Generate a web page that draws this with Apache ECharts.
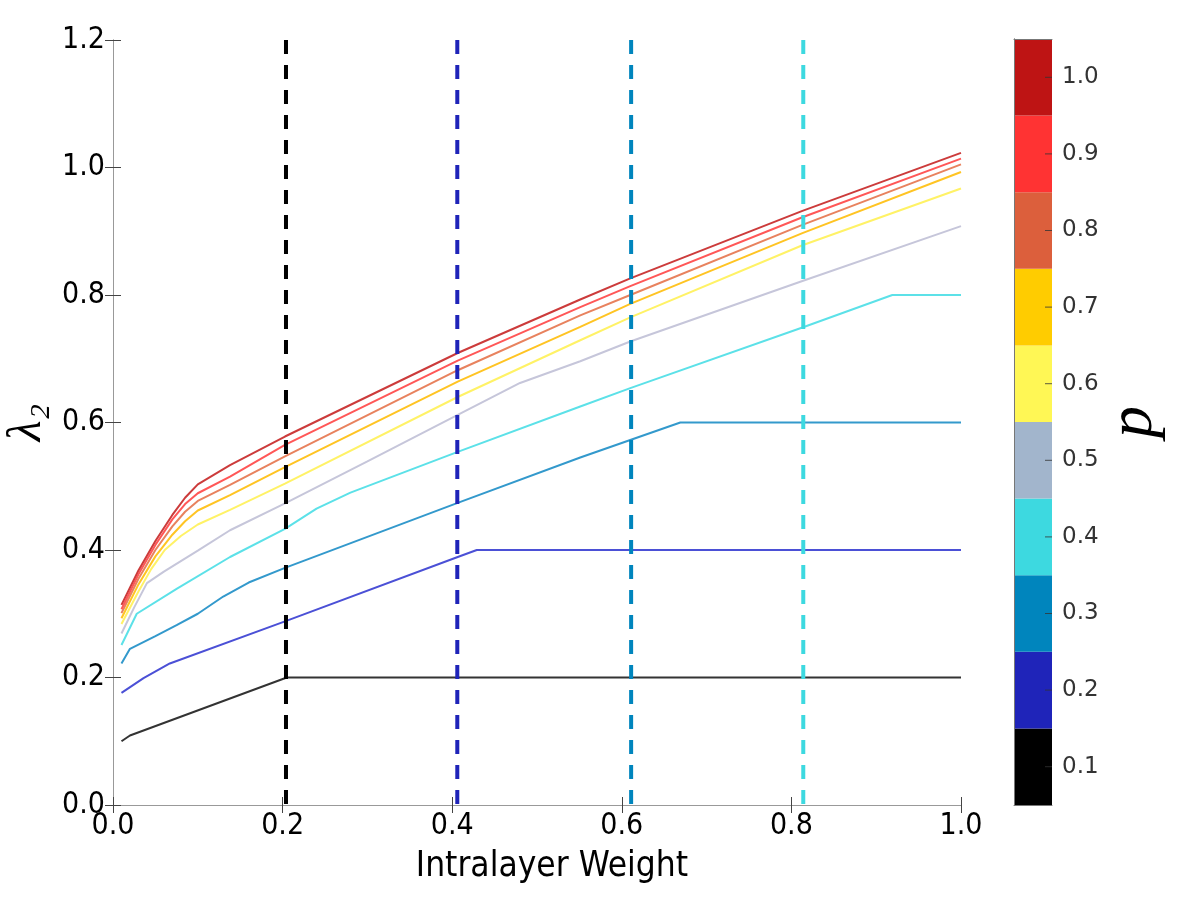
<!DOCTYPE html>
<html>
<head>
<meta charset="utf-8">
<script src="https://cdn.jsdelivr.net/npm/echarts@6/dist/echarts.min.js"></script>
<style>
  html, body { margin: 0; padding: 0; background: #fff; }
  #chart { width: 1200px; height: 900px; }
</style>
</head>
<body>
<div id="chart"></div>
<script>
// lambda_2 vs intralayer weight, one curve per p
const p01 = [[0.01, 0.100], [0.02, 0.109], [0.205, 0.200], [1.0, 0.200]];
const p02 = [[0.01, 0.176], [0.036, 0.199], [0.067, 0.222], [0.2028, 0.288], [0.4065, 0.389], [0.429, 0.400], [1.0, 0.400]];
const p03 = [[0.01, 0.222], [0.02, 0.245], [0.05, 0.265], [0.075, 0.282], [0.1, 0.300], [0.13, 0.327], [0.16, 0.349],
  [0.2028, 0.372], [0.4065, 0.474], [0.551, 0.545], [0.669, 0.600], [1.0, 0.600]];
const p04 = [[0.01, 0.251], [0.028, 0.300], [0.075, 0.339], [0.138, 0.389], [0.2028, 0.433], [0.24, 0.465], [0.28, 0.490],
  [0.4065, 0.554], [0.551, 0.625], [0.61, 0.654], [0.813, 0.749], [0.919, 0.800], [1.0, 0.800]];
const p05 = [[0.01, 0.269], [0.025, 0.310], [0.04, 0.348], [0.06, 0.366], [0.1, 0.399], [0.138, 0.431], [0.2028, 0.473],
  [0.3, 0.539], [0.4065, 0.612], [0.48, 0.662], [0.551, 0.696], [0.61, 0.727], [0.813, 0.822], [1.0, 0.908]];
const p06 = [[0.01, 0.284], [0.03, 0.335], [0.045, 0.370], [0.061, 0.400], [0.08, 0.422], [0.1, 0.440], [0.138, 0.463],
  [0.2028, 0.504], [0.4065, 0.640], [0.551, 0.729], [0.61, 0.765], [0.813, 0.878], [1.0, 0.967]];
const p07 = [[0.01, 0.293], [0.03, 0.346], [0.05, 0.390], [0.07, 0.424], [0.085, 0.445], [0.1, 0.462], [0.138, 0.486],
  [0.2028, 0.530], [0.4065, 0.664], [0.551, 0.750], [0.61, 0.786], [0.813, 0.897], [1.0, 0.993]];
const p08 = [[0.01, 0.301], [0.03, 0.355], [0.05, 0.400], [0.07, 0.437], [0.085, 0.460], [0.1, 0.477], [0.138, 0.502],
  [0.2028, 0.547], [0.4065, 0.682], [0.551, 0.768], [0.61, 0.800], [0.813, 0.910], [1.0, 1.005]];
const p09 = [[0.01, 0.307], [0.03, 0.362], [0.05, 0.408], [0.07, 0.448], [0.085, 0.472], [0.1, 0.489], [0.138, 0.515],
  [0.2028, 0.565], [0.4065, 0.697], [0.551, 0.781], [0.61, 0.814], [0.813, 0.922], [1.0, 1.014]];
const p10 = [[0.01, 0.314], [0.03, 0.368], [0.05, 0.414], [0.07, 0.455], [0.085, 0.482], [0.1, 0.503], [0.138, 0.533],
  [0.2028, 0.578], [0.4065, 0.709], [0.551, 0.793], [0.61, 0.826], [0.813, 0.932], [1.0, 1.023]];

const curves = [p01, p02, p03, p04, p05, p06, p07, p08, p09, p10];
const curveColors = ['#333333', '#4b50d6', '#3399cc', '#5ce1e8', '#c6c6da',
  '#fff266', '#ffc423', '#e8825e', '#ff5757', '#cc3b3b'];

// dashed markers
const dashX = [0.204, 0.406, 0.611, 0.814];
const dashColors = ['#000000', '#1f24b9', '#0085bd', '#3dd9e0'];

// colorbar
const pLabels = ['0.1', '0.2', '0.3', '0.4', '0.5', '0.6', '0.7', '0.8', '0.9', '1.0'];
const cbColors = ['#000000', '#1f24b9', '#0085bd', '#3dd9e0', '#a2b5cc',
  '#fff755', '#ffcc00', '#dc5f3c', '#ff3333', '#be1414'];

const tickFont = "'Liberation Sans Narrow', 'DejaVu Sans Condensed', sans-serif";

const chart = echarts.init(document.getElementById('chart'), null, { renderer: 'canvas' });

const series = [];
curves.forEach((c, i) => {
  series.push({
    type: 'line',
    xAxisIndex: 0,
    yAxisIndex: 0,
    data: c,
    showSymbol: false,
    animation: false,
    z: 3,
    lineStyle: { color: curveColors[i], width: 2 }
  });
});
dashX.forEach((x, i) => {
  series.push({
    type: 'line',
    xAxisIndex: 0,
    yAxisIndex: 0,
    data: [[x, 1.2], [x, 0]],
    showSymbol: false,
    animation: false,
    z: 4,
    lineStyle: { color: dashColors[i], width: 4, type: [14, 11] }
  });
});
// colorbar blocks
series.push({
  type: 'bar',
  xAxisIndex: 2,
  yAxisIndex: 2,
  barWidth: '100%',
  animation: false,
  z: 1,
  data: pLabels.map((p, i) => ({ value: 1, itemStyle: { color: cbColors[i] } }))
});
// colorbar ticks, sitting on the right edge and pointing into the bar
series.push({
  type: 'scatter',
  xAxisIndex: 2,
  yAxisIndex: 2,
  animation: false,
  silent: true,
  z: 5,
  symbol: 'rect',
  symbolSize: [7, 1],
  symbolOffset: [-3.5, 0],
  itemStyle: { color: '#333' },
  data: pLabels.map(p => [1, p])
});

const frameLine = { show: true, lineStyle: { color: '#999', width: 1 } };
const inTick = { show: true, inside: true, length: 8, lineStyle: { color: '#444' } };
const cbEdge = { show: true, lineStyle: { color: '#777' } };

chart.setOption({
  backgroundColor: '#fff',
  animation: false,
  grid: [
    { left: 113, top: 40, width: 848, height: 765, outerBoundsMode: 'none', containLabel: false },
    { left: 1014, top: 39, width: 38, height: 766, outerBoundsMode: 'none', containLabel: false }
  ],
  xAxis: [
    {
      type: 'value', gridIndex: 0, position: 'bottom', min: 0, max: 1, interval: 0.2,
      axisLine: frameLine, axisTick: inTick, splitLine: { show: false },
      axisLabel: { fontSize: 30, fontFamily: tickFont, color: '#000', margin: 6,
        formatter: v => v.toFixed(1) },
      name: 'Intralayer Weight', nameLocation: 'middle', nameGap: 44,
      nameTextStyle: { fontSize: 35, fontFamily: tickFont, color: '#000', padding: [0, 0, 0, 30] }
    },
    {
      type: 'value', gridIndex: 0, position: 'top', min: 0, max: 1, interval: 0.2,
      axisLine: frameLine, axisTick: inTick, axisLabel: { show: false }, splitLine: { show: false }
    },
    {
      type: 'value', gridIndex: 1, position: 'bottom', min: 0, max: 1, z: 6,
      axisLine: cbEdge, axisTick: { show: false }, axisLabel: { show: false }, splitLine: { show: false }
    },
    {
      type: 'value', gridIndex: 1, position: 'top', min: 0, max: 1, z: 6,
      axisLine: cbEdge, axisTick: { show: false }, axisLabel: { show: false }, splitLine: { show: false }
    }
  ],
  yAxis: [
    {
      type: 'value', gridIndex: 0, position: 'left', min: 0, max: 1.2, interval: 0.2,
      axisLine: frameLine, axisTick: inTick, splitLine: { show: false },
      axisLabel: { fontSize: 30, fontFamily: tickFont, color: '#000', margin: 8,
        formatter: v => v.toFixed(1) },
      name: 'λ₂', nameLocation: 'middle', nameRotate: 90, nameGap: 58,
      nameTextStyle: { fontSize: 48, fontFamily: "'Liberation Serif', serif", fontStyle: 'italic', color: '#000' }
    },
    {
      type: 'value', gridIndex: 0, position: 'right', min: 0, max: 1.2, interval: 0.2,
      axisLine: frameLine, axisTick: inTick, axisLabel: { show: false }, splitLine: { show: false }
    },
    {
      type: 'category', gridIndex: 1, position: 'right', data: pLabels, z: 6,
      axisLine: cbEdge,
      axisTick: { show: false },
      axisLabel: { fontSize: 23, fontFamily: "'DejaVu Sans', sans-serif", color: '#333', margin: 10 },
      name: 'p', nameLocation: 'middle', nameRotate: 90, nameGap: 50,
      nameTextStyle: { fontSize: 64, fontFamily: "'Liberation Serif', serif", fontStyle: 'italic', color: '#000' }
    },
    {
      type: 'value', gridIndex: 1, position: 'left', min: 0, max: 1, z: 6,
      axisLine: cbEdge, axisTick: { show: false }, axisLabel: { show: false }, splitLine: { show: false }
    }
  ],
  series: series
});
</script>
</body>
</html>
